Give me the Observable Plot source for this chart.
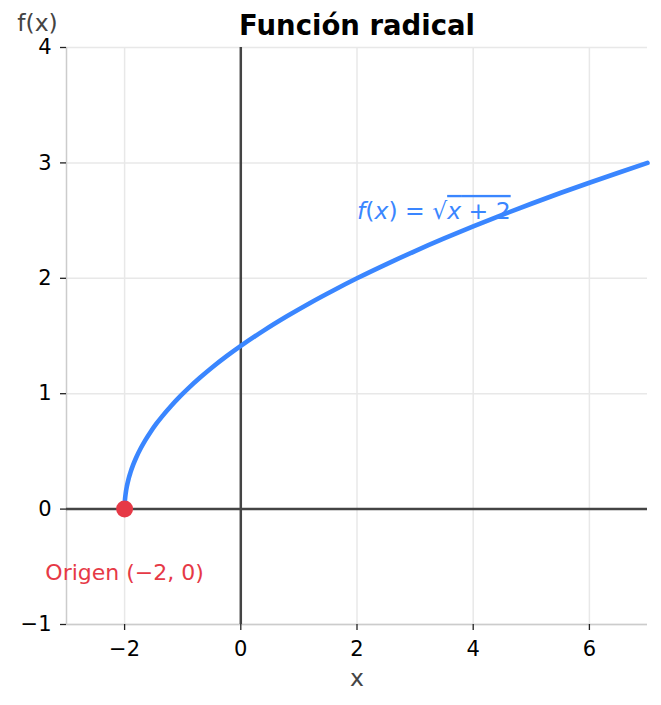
<!DOCTYPE html>
<html>
<head>
<meta charset="utf-8">
<script src="https://cdn.jsdelivr.net/npm/d3@7"></script>
<script src="https://cdn.jsdelivr.net/npm/@observablehq/plot@0.6"></script>
<style>
  html, body { margin: 0; padding: 0; background: #fff; }
  svg { font-family: "DejaVu Sans", sans-serif; }
</style>
</head>
<body>
<div id="chart"></div>
<script>
// Curve samples
const curveX = [-2, -1.9995, -1.998, -1.995, -1.99, -1.98, -1.96, -1.93, -1.9, -1.85, -1.8, -1.72, -1.64, -1.55, -1.45, -1.35, -1.2, -1.05, -0.9, -0.7, -0.5, -0.25, 0, 0.4, 0.8, 1.2, 1.6, 2, 2.5, 3, 3.5, 4, 4.5, 5, 5.5, 6, 6.5, 7];
const curveY = [0, 0.022, 0.045, 0.071, 0.1, 0.141, 0.2, 0.265, 0.316, 0.387, 0.447, 0.529, 0.6, 0.671, 0.742, 0.806, 0.894, 0.975, 1.049, 1.14, 1.225, 1.323, 1.414, 1.549, 1.673, 1.789, 1.897, 2, 2.121, 2.236, 2.345, 2.449, 2.55, 2.646, 2.739, 2.828, 2.915, 3];
const originPoint = [{x: -2, y: 0}];
const xTicks = [-2, 0, 2, 4, 6];
const yTicks = [-1, 0, 1, 2, 3, 4];
const xDomain = [-3, 7];
const yDomain = [-1, 4];
const titleText = "Función radical";
const xLabel = "x";
const yLabel = "f(x)";
const curveLabel = {x: 2, y: 2.58, text: "f(x) = √x + 2"};
const originLabel = {x: -2, y: -0.55, text: "Origen (−2, 0)"};

const curve = curveX.map((x, i) => ({x, y: curveY[i]}));
const fmt = d => String(d).replace("-", "−");
const blue = "#3a86ff";
const red = "#e63946";

const chart = Plot.plot({
  width: 661,
  height: 705,
  marginLeft: 66,
  marginRight: 14,
  marginTop: 47,
  marginBottom: 81,
  style: {fontFamily: "DejaVu Sans, sans-serif", background: "#fff"},
  x: {domain: xDomain},
  y: {domain: yDomain},
  marks: [
    Plot.gridX(xTicks, {stroke: "#e8e8e8", strokeOpacity: 1, strokeWidth: 1.5}),
    Plot.gridY(yTicks, {stroke: "#e8e8e8", strokeOpacity: 1, strokeWidth: 1.5}),
    Plot.ruleX([xDomain[0]], {stroke: "#cccccc", strokeWidth: 1.5}),
    Plot.ruleY([yDomain[0]], {stroke: "#cccccc", strokeWidth: 1.5}),
    Plot.ruleX([0], {stroke: "#444444", strokeWidth: 2.5}),
    Plot.ruleY([0], {stroke: "#444444", strokeWidth: 2.5}),
    Plot.axisX({ticks: xTicks, tickFormat: fmt, tickSize: 6, tickPadding: 11, fontSize: 21, fill: "#000", stroke: "#222", strokeWidth: 1.3, label: null}),
    Plot.axisY({ticks: yTicks, tickFormat: fmt, tickSize: 6, tickPadding: 9, fontSize: 21, fill: "#000", stroke: "#222", strokeWidth: 1.3, label: null}),
    Plot.line(curve, {x: "x", y: "y", stroke: blue, strokeWidth: 4.6, curve: "monotone-x"}),
    Plot.dot(originPoint, {x: "x", y: "y", r: 8.5, fill: red, stroke: null}),
    Plot.text([curveLabel], {x: "x", y: "y", text: "text", textAnchor: "start", fill: blue, fontSize: 23.5, className: "curvelabel"}),
    Plot.text([originLabel], {x: "x", y: "y", text: "text", textAnchor: "middle", fill: red, fontSize: 22}),
    Plot.text([titleText], {frameAnchor: "top", dy: -21, fontSize: 27.5, fontWeight: "bold", fill: "#000", lineAnchor: "middle"}),
    Plot.text([yLabel], {frameAnchor: "top-left", dx: -29, dy: -24, fontSize: 23.5, fill: "#444", textAnchor: "middle", lineAnchor: "middle"}),
    Plot.text([xLabel], {frameAnchor: "bottom", dy: 54, fontSize: 23.5, fill: "#444", lineAnchor: "middle"})
  ]
});

// Style the formula: italic variables and an overline on the radicand
const lab = d3.select(chart).select(".curvelabel text");
if (!lab.empty()) {
  lab.text(null);
  lab.append("tspan").attr("font-style", "italic").text("f");
  lab.append("tspan").text("(");
  lab.append("tspan").attr("font-style", "italic").text("x");
  lab.append("tspan").text(") = √");
  const rad = lab.append("tspan").style("text-decoration", "overline");
  rad.append("tspan").attr("font-style", "italic").text("x");
  rad.append("tspan").text(" + 2");
}

document.getElementById("chart").append(chart);
</script>
</body>
</html>
